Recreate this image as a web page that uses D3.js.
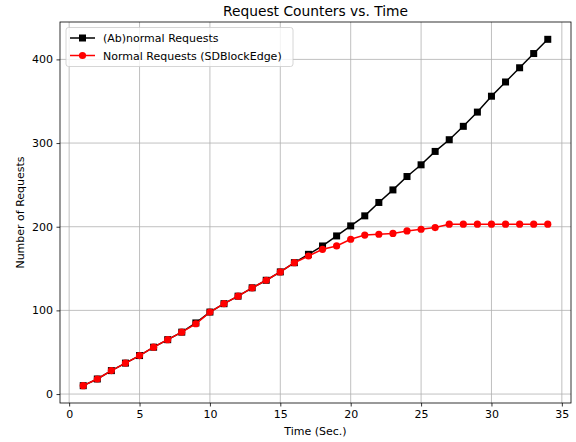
<!DOCTYPE html>
<html><head><meta charset="utf-8">
<script src="https://cdn.jsdelivr.net/npm/d3@7"></script>
<style>body{margin:0;background:#fff}svg{display:block;font-family:"DejaVu Sans",sans-serif}</style>
</head><body><svg id="c" width="576" height="442"></svg>
<script>
const times = [1,2,3,4,5,6,7,8,9,10,11,12,13,14,15,16,17,18,19,20,21,22,23,24,25,26,27,28,29,30,31,32,33,34];
const abnormal = [10,18,28,37,46,56,65,74,85,98,108,117,127,136,146,157,167,177,189,201,213,229,244,260,274,290,304,320,337,356,373,390,407,424];
const normal = [10,18,28,37,46,56,65,74,84,98,108,117,127,136,146,157,165,173,177,185,190,191,192,195,197,199,203,203,203,203,203,203,203,203];
const xTicks = [0,5,10,15,20,25,30,35];
const yTicks = [0,100,200,300,400];
const seriesNames = ["(Ab)normal Requests","Normal Requests (SDBlockEdge)"];

const svg = d3.select("#c");
const L=60, R=571, T=22, B=403;
const x = d3.scaleLinear().domain([-0.65,35.65]).range([L,R]);
const y = d3.scaleLinear().domain([-10.7,444.7]).range([B,T]);

// grid
svg.append("g").selectAll("line").data(xTicks).join("line")
  .attr("x1",d=>x(d)).attr("x2",d=>x(d)).attr("y1",T).attr("y2",B)
  .attr("stroke","#b0b0b0").attr("stroke-width",0.8);
svg.append("g").selectAll("line").data(yTicks).join("line")
  .attr("y1",d=>y(d)).attr("y2",d=>y(d)).attr("x1",L).attr("x2",R)
  .attr("stroke","#b0b0b0").attr("stroke-width",0.8);

// axes
const xa = svg.append("g").attr("transform",`translate(0,${B})`)
  .call(d3.axisBottom(x).tickValues(xTicks).tickSize(3.5).tickPadding(3.5));
const ya = svg.append("g").attr("transform",`translate(${L},0)`)
  .call(d3.axisLeft(y).tickValues(yTicks).tickSize(3.5).tickPadding(3.5));
[xa,ya].forEach(a=>{a.select(".domain").remove();a.selectAll("text").attr("font-size",11).attr("fill","#000").attr("font-family","DejaVu Sans");a.selectAll("line").attr("stroke","#000").attr("stroke-width",0.8);});
svg.append("rect").attr("x",L).attr("y",T).attr("width",R-L).attr("height",B-T)
  .attr("fill","none").attr("stroke","#000").attr("stroke-width",0.8);

// lines
const line = d3.line().x(d=>x(d[0])).y(d=>y(d[1]));
const dA = times.map((t,i)=>[t,abnormal[i]]);
const dN = times.map((t,i)=>[t,normal[i]]);
svg.append("path").attr("d",line(dA)).attr("fill","none").attr("stroke","#000").attr("stroke-width",1.5);
svg.append("g").selectAll("rect").data(dA).join("rect")
  .attr("x",d=>x(d[0])-3.5).attr("y",d=>y(d[1])-3.5).attr("width",7).attr("height",7).attr("fill","#000");
svg.append("path").attr("d",line(dN)).attr("fill","none").attr("stroke","#ff0000").attr("stroke-width",1.5);
svg.append("g").selectAll("circle").data(dN).join("circle")
  .attr("cx",d=>x(d[0])).attr("cy",d=>y(d[1])).attr("r",3.6).attr("fill","#ff0000");

// labels
svg.append("text").attr("x",(L+R)/2).attr("y",16).attr("text-anchor","middle").attr("font-size",13.8).text("Request Counters vs. Time");
svg.append("text").attr("x",(L+R)/2).attr("y",435).attr("text-anchor","middle").attr("font-size",11).text("Time (Sec.)");
svg.append("text").attr("transform",`translate(24,${(T+B)/2}) rotate(-90)`).attr("text-anchor","middle").attr("font-size",11).text("Number of Requests");

// legend
const lg = svg.append("g");
lg.append("rect").attr("x",66).attr("y",27.5).attr("width",227).attr("height",39).attr("rx",2.5)
  .attr("fill","#fff").attr("fill-opacity",0.8).attr("stroke","#cccccc").attr("stroke-width",0.8);
seriesNames.forEach((n,i)=>{
  const yy = 38 + i*17.5;
  const col = i===0?"#000":"#ff0000";
  lg.append("line").attr("x1",70).attr("x2",95).attr("y1",yy).attr("y2",yy).attr("stroke",col).attr("stroke-width",1.5);
  if(i===0) lg.append("rect").attr("x",82.5-3.5).attr("y",yy-3.5).attr("width",7).attr("height",7).attr("fill",col);
  else lg.append("circle").attr("cx",82.5).attr("cy",yy).attr("r",3.6).attr("fill",col);
  lg.append("text").attr("x",103).attr("y",yy+4).attr("font-size",11).text(n);
});
</script></body></html>
